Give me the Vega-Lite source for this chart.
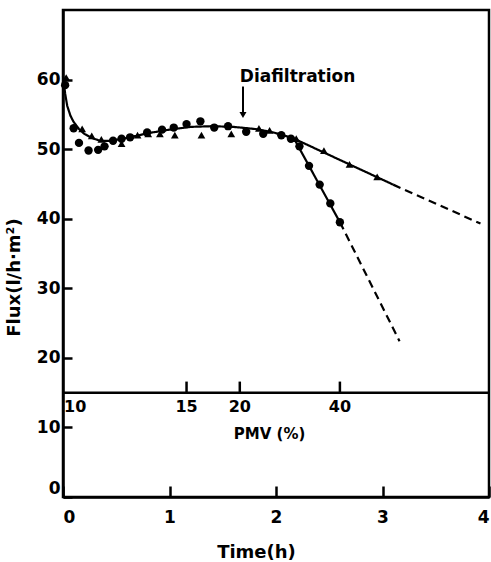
{
  "$schema": "https://vega.github.io/schema/vega-lite/v6.json",
  "width": 426,
  "height": 487,
  "autosize": {"type": "none"},
  "padding": {"left": 63, "top": 10, "right": 2, "bottom": 65},
  "background": "white",
  "datasets": {
    "curve": [
      {"seg": "main", "style": "solid", "t": 0.0, "f": 60.5},
      {"seg": "main", "style": "solid", "t": 0.02, "f": 58.0},
      {"seg": "main", "style": "solid", "t": 0.04, "f": 56.2},
      {"seg": "main", "style": "solid", "t": 0.07, "f": 54.8},
      {"seg": "main", "style": "solid", "t": 0.1, "f": 53.9},
      {"seg": "main", "style": "solid", "t": 0.15, "f": 52.9},
      {"seg": "main", "style": "solid", "t": 0.2, "f": 52.2},
      {"seg": "main", "style": "solid", "t": 0.27, "f": 51.6},
      {"seg": "main", "style": "solid", "t": 0.35, "f": 51.2},
      {"seg": "main", "style": "solid", "t": 0.45, "f": 51.2},
      {"seg": "main", "style": "solid", "t": 0.6, "f": 51.6},
      {"seg": "main", "style": "solid", "t": 0.8, "f": 52.3},
      {"seg": "main", "style": "solid", "t": 1.0, "f": 52.8},
      {"seg": "main", "style": "solid", "t": 1.2, "f": 53.2},
      {"seg": "main", "style": "solid", "t": 1.4, "f": 53.3},
      {"seg": "main", "style": "solid", "t": 1.6, "f": 53.2},
      {"seg": "main", "style": "solid", "t": 1.8, "f": 52.9},
      {"seg": "main", "style": "solid", "t": 1.95, "f": 52.5},
      {"seg": "main", "style": "solid", "t": 2.07, "f": 52.0},
      {"seg": "main", "style": "solid", "t": 2.17, "f": 51.5},
      {"seg": "triA", "style": "solid", "t": 2.17, "f": 51.5},
      {"seg": "triA", "style": "solid", "t": 3.1, "f": 44.9},
      {"seg": "triB", "style": "dashed", "t": 3.1, "f": 44.9},
      {"seg": "triB", "style": "dashed", "t": 3.92, "f": 39.3},
      {"seg": "cirA", "style": "solid", "t": 2.17, "f": 51.5},
      {"seg": "cirA", "style": "solid", "t": 2.6, "f": 39.5},
      {"seg": "cirB", "style": "dashed", "t": 2.6, "f": 39.5},
      {"seg": "cirB", "style": "dashed", "t": 3.16, "f": 22.4}
    ],
    "circles": [
      {"t": 0.02, "f": 59.2}, {"t": 0.10, "f": 53.0}, {"t": 0.15, "f": 50.9},
      {"t": 0.24, "f": 49.8}, {"t": 0.33, "f": 49.9}, {"t": 0.39, "f": 50.4},
      {"t": 0.47, "f": 51.2}, {"t": 0.55, "f": 51.5}, {"t": 0.63, "f": 51.7},
      {"t": 0.79, "f": 52.4}, {"t": 0.93, "f": 52.8}, {"t": 1.04, "f": 53.1},
      {"t": 1.16, "f": 53.6}, {"t": 1.29, "f": 54.0}, {"t": 1.42, "f": 53.1},
      {"t": 1.55, "f": 53.3}, {"t": 1.72, "f": 52.5}, {"t": 1.88, "f": 52.2},
      {"t": 2.05, "f": 52.0}, {"t": 2.14, "f": 51.5}, {"t": 2.22, "f": 50.4},
      {"t": 2.31, "f": 47.6}, {"t": 2.41, "f": 44.9}, {"t": 2.51, "f": 42.2},
      {"t": 2.60, "f": 39.5}
    ],
    "triangles": [
      {"t": 0.03, "f": 60.3}, {"t": 0.18, "f": 52.9}, {"t": 0.27, "f": 51.9},
      {"t": 0.36, "f": 51.4}, {"t": 0.55, "f": 50.8}, {"t": 0.70, "f": 52.0},
      {"t": 0.80, "f": 52.2}, {"t": 0.91, "f": 52.2}, {"t": 1.05, "f": 52.0},
      {"t": 1.30, "f": 52.0}, {"t": 1.58, "f": 52.2}, {"t": 1.84, "f": 53.0},
      {"t": 1.94, "f": 52.7}, {"t": 2.19, "f": 51.5}, {"t": 2.45, "f": 49.8},
      {"t": 2.69, "f": 47.8}, {"t": 2.95, "f": 46.0}
    ],
    "pmv": [
      {"pmv": "15", "t": 1.16},
      {"pmv": "20", "t": 1.66},
      {"pmv": "40", "t": 2.60}
    ]
  },
  "layer": [
    {
      "data": {"name": "curve"},
      "mark": {"type": "line", "color": "black", "strokeWidth": 2.2},
      "encoding": {
        "x": {
          "field": "t", "type": "quantitative",
          "scale": {"domain": [0, 4], "nice": false, "zero": false},
          "axis": {
            "title": "Time(h)", "values": [0, 1, 2, 3, 4], "format": "d",
            "tickSize": -11, "labelPadding": 23, "labelFontSize": 17,
            "titleFontSize": 18, "titleX": 193, "titleY": 55, "titleBaseline": "middle"
          }
        },
        "y": {
          "field": "f", "type": "quantitative",
          "scale": {"domain": [0, 70], "nice": false},
          "axis": {
            "title": "Flux(l/h·m²)", "values": [0, 10, 20, 30, 40, 50, 60],
            "tickSize": -9, "labelPadding": 12, "labelFontSize": 17, "labelFlush": true,
            "titleFontSize": 18, "titleX": -40, "titleY": 267, "titleAngle": -90, "titleAlign": "center"
          }
        },
        "detail": {"field": "seg"},
        "strokeDash": {"field": "style", "type": "nominal", "scale": {"domain": ["solid", "dashed"], "range": [[1, 0], [8, 5]]}, "legend": null}
      }
    },
    {
      "data": {"values": [{"a": 1}]},
      "mark": {"type": "rule", "color": "black", "strokeWidth": 2.5},
      "encoding": {"x": {"datum": 0}, "x2": {"datum": 4}, "y": {"datum": 15}}
    },
    {
      "data": {"name": "pmv"},
      "mark": {"type": "tick", "orient": "vertical", "color": "black", "size": 11, "thickness": 2.5, "opacity": 1},
      "encoding": {"x": {"field": "t", "type": "quantitative"}, "y": {"datum": 15.8}}
    },
    {
      "data": {"name": "pmv"},
      "mark": {"type": "text", "fontSize": 16, "align": "center", "baseline": "middle"},
      "encoding": {"x": {"field": "t", "type": "quantitative"}, "y": {"datum": 13}, "text": {"field": "pmv"}}
    },
    {
      "data": {"values": [{"pmv": "10"}]},
      "mark": {"type": "text", "fontSize": 16, "align": "left", "baseline": "middle", "dx": 1},
      "encoding": {"x": {"datum": 0}, "y": {"datum": 13}, "text": {"field": "pmv"}}
    },
    {
      "data": {"values": [{"label": "PMV (%)"}]},
      "mark": {"type": "text", "fontSize": 15, "align": "center", "baseline": "middle"},
      "encoding": {"x": {"datum": 1.94}, "y": {"datum": 9.0}, "text": {"field": "label"}}
    },
    {
      "data": {"name": "circles"},
      "mark": {"type": "point", "shape": "circle", "filled": true, "color": "black", "size": 70, "opacity": 1},
      "encoding": {"x": {"field": "t", "type": "quantitative"}, "y": {"field": "f", "type": "quantitative"}}
    },
    {
      "data": {"name": "triangles"},
      "mark": {"type": "point", "shape": "triangle-up", "filled": true, "color": "black", "size": 60, "opacity": 1},
      "encoding": {"x": {"field": "t", "type": "quantitative"}, "y": {"field": "f", "type": "quantitative"}}
    },
    {
      "data": {"values": [{"label": "Diafiltration"}]},
      "mark": {"type": "text", "fontSize": 17, "align": "left", "baseline": "alphabetic"},
      "encoding": {"x": {"datum": 1.66}, "y": {"datum": 59.6}, "text": {"field": "label"}}
    },
    {
      "data": {"values": [{"a": 1}]},
      "mark": {"type": "rule", "color": "black", "strokeWidth": 2},
      "encoding": {"x": {"datum": 1.69}, "y": {"datum": 59.0}, "y2": {"datum": 55.2}}
    },
    {
      "data": {"values": [{"a": 1}]},
      "mark": {"type": "point", "shape": "triangle-down", "filled": true, "color": "black", "size": 50, "opacity": 1},
      "encoding": {"x": {"datum": 1.69}, "y": {"datum": 54.9}}
    }
  ],
  "config": {
    "view": {"stroke": "black", "strokeWidth": 2.5},
    "axis": {
      "grid": false, "domainColor": "black", "domainWidth": 2.5,
      "tickColor": "black", "tickWidth": 2.5,
      "labelFont": "DejaVu Sans", "labelFontWeight": "bold", "labelColor": "black",
      "titleFont": "DejaVu Sans", "titleFontWeight": "bold", "titleColor": "black"
    },
    "text": {"font": "DejaVu Sans", "fontWeight": "bold", "color": "black"}
  }
}
